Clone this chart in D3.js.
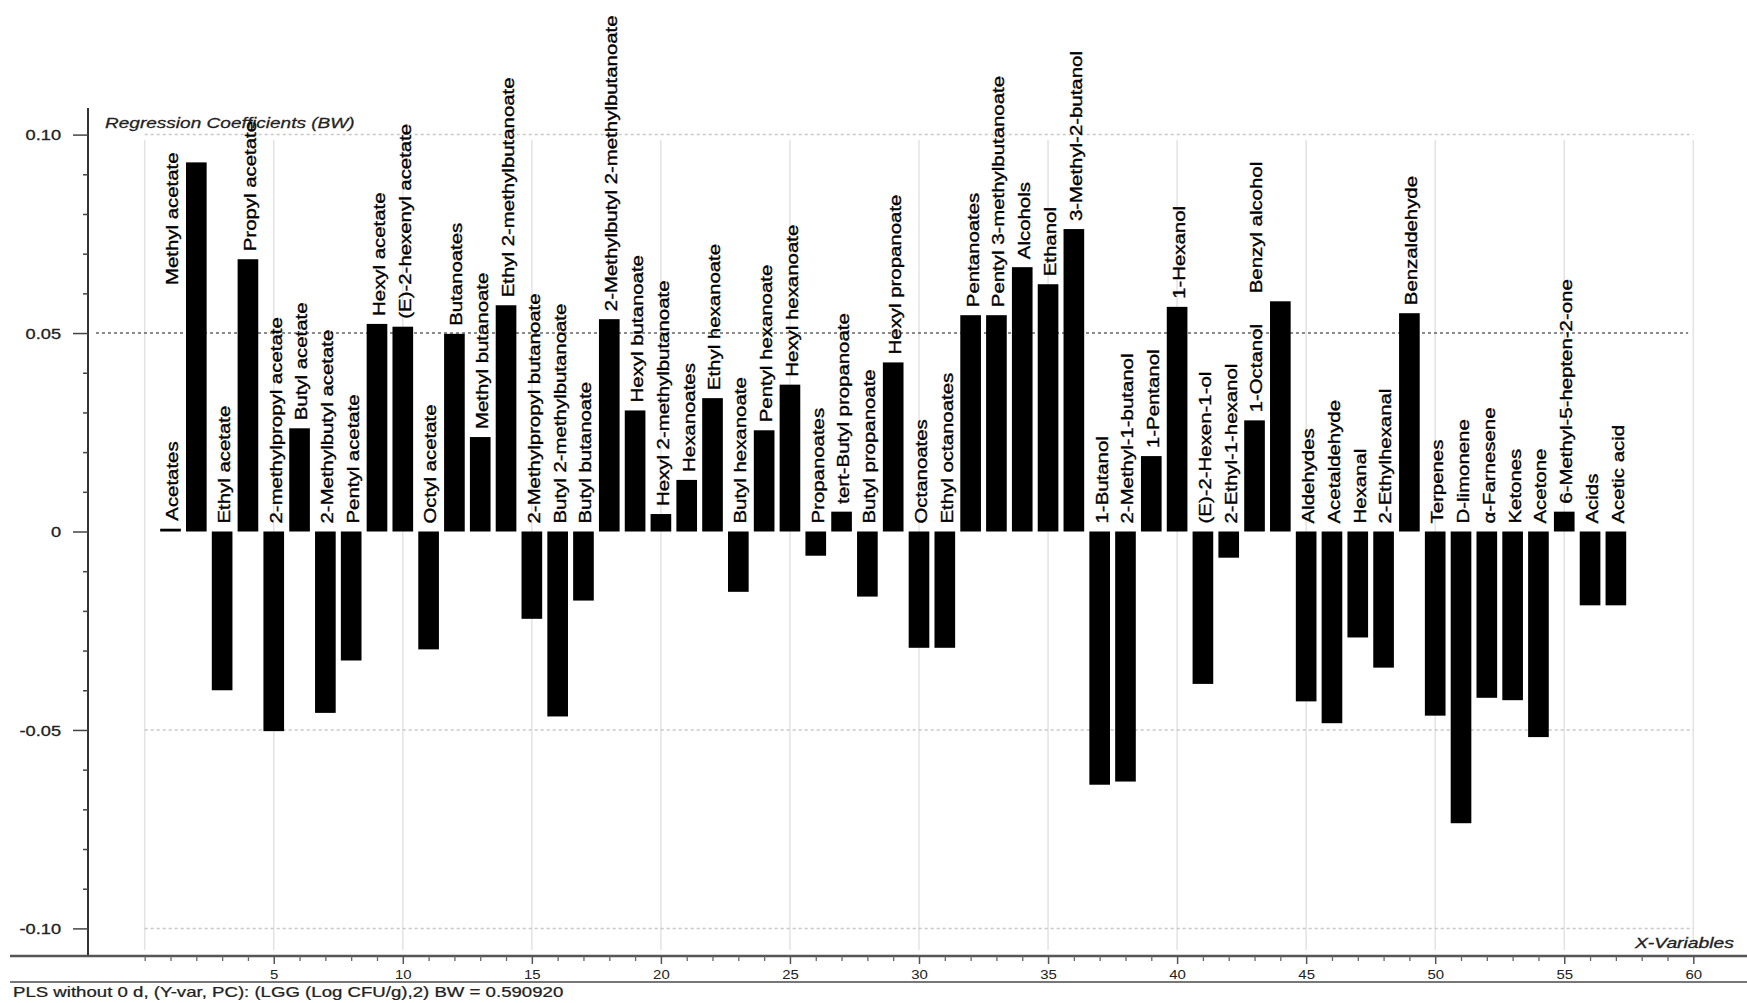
<!DOCTYPE html>
<html>
<head>
<meta charset="utf-8">
<script src="https://cdn.jsdelivr.net/npm/d3@7"></script>
<style>
  html, body { margin: 0; padding: 0; background: #fff; }
  svg { display: block; font-family: "Liberation Sans", Arial, sans-serif; }
</style>
</head>
<body>
<svg id="chart" width="1747" height="1003"></svg>
<script>
// ---------------- data ----------------
const categories = [
  "Acetates", "Methyl acetate", "Ethyl acetate", "Propyl acetate", "2-methylpropyl acetate",
  "Butyl acetate", "2-Methylbutyl acetate", "Pentyl acetate", "Hexyl acetate", "(E)-2-hexenyl acetate",
  "Octyl acetate", "Butanoates", "Methyl butanoate", "Ethyl 2-methylbutanoate", "2-Methylpropyl butanoate",
  "Butyl 2-methylbutanoate", "Butyl butanoate", "2-Methylbutyl 2-methylbutanoate", "Hexyl butanoate", "Hexyl 2-methylbutanoate",
  "Hexanoates", "Ethyl hexanoate", "Butyl hexanoate", "Pentyl hexanoate", "Hexyl hexanoate",
  "Propanoates", "tert-Butyl propanoate", "Butyl propanoate", "Hexyl propanoate", "Octanoates",
  "Ethyl octanoates", "Pentanoates", "Pentyl 3-methylbutanoate", "Alcohols", "Ethanol",
  "3-Methyl-2-butanol", "1-Butanol", "2-Methyl-1-butanol", "1-Pentanol", "1-Hexanol",
  "(E)-2-Hexen-1-ol", "2-Ethyl-1-hexanol", "1-Octanol", "Benzyl alcohol", "Aldehydes",
  "Acetaldehyde", "Hexanal", "2-Ethylhexanal", "Benzaldehyde", "Terpenes",
  "D-limonene", "\u03b1-Farnesene", "Ketones", "Acetone", "6-Methyl-5-hepten-2-one",
  "Acids", "Acetic acid"
];
const coefficients = [
  0.0007, 0.0930, -0.0400, 0.0686, -0.0503,
  0.0260, -0.0457, -0.0325, 0.0523, 0.0516,
  -0.0297, 0.0498, 0.0238, 0.0570, -0.0220,
  -0.0466, -0.0174, 0.0535, 0.0305, 0.0044,
  0.0130, 0.0336, -0.0152, 0.0255, 0.0370,
  -0.0061, 0.0050, -0.0164, 0.0426, -0.0293,
  -0.0293, 0.0545, 0.0545, 0.0666, 0.0623,
  0.0762, -0.0638, -0.0630, 0.0190, 0.0566,
  -0.0384, -0.0066, 0.0280, 0.0580, -0.0428,
  -0.0483, -0.0267, -0.0343, 0.0550, -0.0464,
  -0.0735, -0.0419, -0.0425, -0.0518, 0.0050,
  -0.0186, -0.0186
];
const yMajorTicks = [0.10, 0.05, 0, -0.05, -0.10];
const yTickLabels = ["0.10", "0.05", "0", "-0.05", "-0.10"];
const xMajorTicks = [5, 10, 15, 20, 25, 30, 35, 40, 45, 50, 55, 60];
const titleText = "Regression Coefficients (BW)";
const xAxisTitle = "X-Variables";
const footerText = "PLS without 0 d, (Y-var, PC): (LGG (Log CFU/g),2) BW = 0.590920";

// ---------------- layout ----------------
const svg = d3.select("#chart");
svg.append("rect").attr("width", 1747).attr("height", 1003).attr("fill", "#fff");

const x = d3.scaleLinear().domain([0, 60]).range([144.7, 1693.3]);
const y = d3.scaleLinear().domain([-0.1, 0.1]).range([928.4, 134.6]);
const axisX = 88, axisTop = 108, baseY = 956;
const hStretch = 1.3;     // horizontal text stretch
const labelStretch = 1.2; // along-text stretch of bar labels

// vertical grid
const g = svg.append("g");
g.selectAll("line.vgrid").data(d3.range(0, 61, 5)).join("line")
  .attr("x1", d => x(d)).attr("x2", d => x(d))
  .attr("y1", 140).attr("y2", 950)
  .attr("stroke", "#e3e3e3").attr("stroke-width", 1.5);

// light dotted horizontal grid
g.selectAll("line.hgrid").data([0.10, -0.05, -0.10]).join("line")
  .attr("x1", x(0)).attr("x2", x(60))
  .attr("y1", d => y(d)).attr("y2", d => y(d))
  .attr("stroke", "#c8c8c8").attr("stroke-width", 1.5)
  .attr("stroke-dasharray", "3,3");

// dark dotted reference line at 0.05
g.append("line")
  .attr("x1", 96).attr("x2", x(59.8))
  .attr("y1", y(0.05)).attr("y2", y(0.05))
  .attr("stroke", "#666").attr("stroke-width", 1.6)
  .attr("stroke-dasharray", "3,3");

// title
svg.append("text")
  .attr("transform", `translate(105,128) scale(1.36,1)`)
  .attr("font-size", 14).attr("font-style", "italic").attr("fill", "#222")
  .attr("stroke", "#222").attr("stroke-width", 0.25)
  .text(titleText);

// bars
const barW = (x(1) - x(0)) * 0.8;
const data = categories.map((c, i) => ({ name: c, value: coefficients[i], pos: i + 1 }));
svg.append("g").selectAll("rect").data(data).join("rect")
  .attr("x", d => x(d.pos) - barW / 2)
  .attr("width", barW)
  .attr("y", d => y(Math.max(0, d.value)))
  .attr("height", d => Math.max(1.5, Math.abs(y(d.value) - y(0))))
  .attr("fill", "#000");

// bar labels (rotated). A couple of labels are displaced one column left, as in the original.
const displacedLeft = { "Methyl acetate": "end", "Benzyl alcohol": "start" };
svg.append("g").selectAll("text").data(data).join("text")
  .attr("font-size", 17).attr("fill", "#000")
  .attr("stroke", "#000").attr("stroke-width", 0.35)
  .attr("dominant-baseline", "central")
  .attr("text-anchor", d => displacedLeft[d.name] === "end" ? "end" : "start")
  .attr("transform", d => {
    const mode = displacedLeft[d.name];
    const cx = x(mode ? d.pos - 1 : d.pos) + 2;
    let yy;
    if (mode === "end") yy = y(d.value) - 10;
    else yy = y(Math.max(0, d.value)) - 8;
    return `translate(${cx},${yy}) rotate(-90) scale(${labelStretch},1)`;
  })
  .text(d => d.name);

// y axis
const yAxis = svg.append("g").attr("transform", `translate(${axisX},0)`);
yAxis.append("line").attr("x1", 0).attr("x2", 0).attr("y1", axisTop).attr("y2", baseY)
  .attr("stroke", "#333").attr("stroke-width", 2);
const yMinor = d3.range(-10, 11).map(k => k / 100).filter(v => Math.abs(Math.round(v * 100) % 5) !== 0);
const yMinorAxis = d3.axisLeft(y).tickValues(yMinor).tickSize(5).tickFormat("");
yAxis.append("g").call(yMinorAxis).call(s => {
  s.select(".domain").remove();
  s.selectAll(".tick line").attr("stroke", "#444").attr("stroke-width", 1.5);
});
const yMajorAxis = d3.axisLeft(y).tickValues(yMajorTicks).tickSize(15)
  .tickFormat((d, i) => yTickLabels[i]);
yAxis.append("g").call(yMajorAxis).call(s => {
  s.select(".domain").remove();
  s.selectAll(".tick line").attr("stroke", "#444").attr("stroke-width", 1.5);
  s.selectAll(".tick text")
    .attr("x", null).attr("dy", null)
    .attr("dominant-baseline", "central")
    .attr("font-size", 14).attr("fill", "#222")
    .attr("stroke", "#222").attr("stroke-width", 0.3)
    .attr("font-family", "Liberation Sans, Arial, sans-serif")
    .attr("text-anchor", "end")
    .attr("transform", `translate(-27,0) scale(${hStretch},1)`);
});

// x axis
const xAxisG = svg.append("g").attr("transform", `translate(0,${baseY})`);
xAxisG.append("line").attr("x1", 10).attr("x2", 1747).attr("y1", 0).attr("y2", 0)
  .attr("stroke", "#555").attr("stroke-width", 2.5);
const xMinor = d3.range(0, 61).filter(v => v % 5 !== 0 || v === 0);
xAxisG.append("g").call(d3.axisBottom(x).tickValues(xMinor).tickSize(5).tickFormat(""))
  .call(s => {
    s.select(".domain").remove();
    s.selectAll(".tick line").attr("stroke", "#666").attr("stroke-width", 1.3);
  });
xAxisG.append("g").call(d3.axisBottom(x).tickValues(xMajorTicks).tickSize(8).tickFormat(d3.format("d")))
  .call(s => {
    s.select(".domain").remove();
    s.selectAll(".tick line").attr("stroke", "#555").attr("stroke-width", 1.5);
    s.selectAll(".tick text")
      .attr("y", null).attr("dy", null)
      .attr("font-size", 13).attr("fill", "#222")
      .attr("font-family", "Liberation Sans, Arial, sans-serif")
      .attr("transform", `translate(0,23) scale(1.15,1)`);
  });

// x-axis title
svg.append("text")
  .attr("transform", `translate(1734,948) scale(1.38,1)`)
  .attr("text-anchor", "end")
  .attr("font-size", 14).attr("font-style", "italic").attr("fill", "#222")
  .attr("stroke", "#222").attr("stroke-width", 0.3)
  .text(xAxisTitle);

// separator line and footer
svg.append("line").attr("x1", 10).attr("x2", 1747).attr("y1", 982).attr("y2", 982)
  .attr("stroke", "#777").attr("stroke-width", 2);
svg.append("text")
  .attr("transform", `translate(13,997) scale(1.33,1)`)
  .attr("font-size", 14).attr("fill", "#222")
  .attr("stroke", "#222").attr("stroke-width", 0.25)
  .text(footerText);
</script>
</body>
</html>
